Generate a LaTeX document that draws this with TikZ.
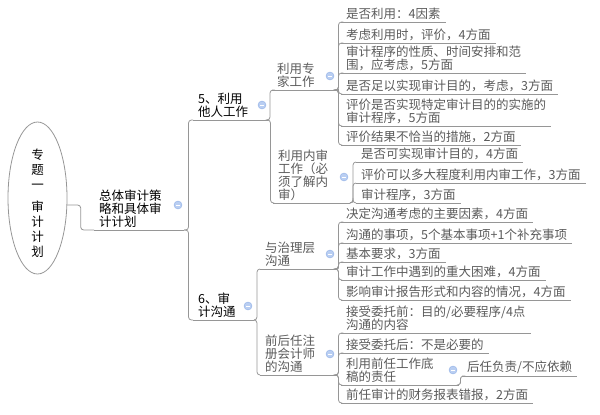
\documentclass[tikz,border=0pt]{standalone}
\usepackage{fontspec}
\setmainfont{Noto Sans CJK SC}
\usetikzlibrary{calc,shapes.geometric}

\definecolor{linegray}{RGB}{150,150,150}
\definecolor{foldfill}{RGB}{185,206,242}
\definecolor{foldedge}{RGB}{145,176,230}
\definecolor{leaftext}{RGB}{90,90,90}

\tikzset{
  topic/.style={anchor=south west, align=left, inner xsep=5pt, inner ysep=2pt,
    font=\fontsize{12.5}{13}\selectfont},
  leaf/.style={topic, text=leaftext},
  fold/.style={circle, fill=foldfill, draw=foldedge, line width=0.4pt,
    minimum size=8pt, inner sep=0pt, outer sep=2pt,
    path picture={\draw[white, line width=0.9pt]
      ([xshift=-2.2pt]path picture bounding box.center) --
      ([xshift=2.2pt]path picture bounding box.center);}},
  uline/.style={draw=linegray, line width=0.8pt},
  branch/.style={uline, rounded corners=3pt,
    to path={(\tikztostart) -| ($(\tikztostart)!0.5!(\tikztotarget)$)
      |- (\tikztotarget)}},
}

\begin{document}
\begin{tikzpicture}[x=1pt, y=-1pt]
      \useasboundingbox (0,0) rectangle (600,415);
      %
      \node[draw=linegray, line width=0.8pt, ellipse, minimum width=59pt,
        minimum height=152pt, inner sep=0pt, font=\fontsize{12.5}{15}\selectfont]
        (root) at (37.5,198) {\raisebox{-10pt}[0pt][0pt]{\begin{tabular}[c]{@{}c@{}}
          专\\题\\一\\[7pt]审\\计\\计\\划\end{tabular}}};   % title
      %
      \node[topic] (plan) at (94,230) {总体审计策\\略和具体审\\计计划};
      \node[fold] (fplan) at (178,205) {};
      %%
      \node[topic] (other) at (193,120) {5、利用\\他人工作};   % first branch
      \node[fold] (fother) at (262,105) {};
      \node[topic] (comm) at (193,320) {6、审\\计沟通};         % second branch
      \node[fold] (fcomm) at (248,306) {};
      %%
      \node[leaf] (expert) at (272,90) {利用专\\家工作};
      \node[fold] (fexpert) at (330,76) {};
      \node[leaf] (inner) at (273,203) {利用内审\\工作（必\\须了解内\\审）};
      \node[fold] (finner) at (344,177) {};
      \node[leaf] (gov) at (260,269) {与治理层\\沟通};
      \node[fold] (fgov) at (330,254) {};
      \node[leaf] (pred) at (260,375) {前后任注\\册会计师\\的沟通};
      \node[fold] (fpred) at (330,354) {};
      %%
      \node[leaf] (e1) at (341,22) {是否利用：4因素};             % expert
      \node[leaf] (e2) at (341,43) {考虑利用时，评价，4方面};
      \node[leaf] (e3) at (341,73) {审计程序的性质、时间安排和范\\围，应考虑，5方面};
      \node[leaf] (e4) at (341,94) {是否足以实现审计目的，考虑，3方面};
      \node[leaf] (e5) at (341,126) {评价是否实现特定审计目的的实施的\\审计程序，5方面};
      \node[leaf] (e6) at (341,145) {评价结果不恰当的措施，2方面};
      %
      \node[leaf] (i1) at (356,162) {是否可实现审计目的，4方面};   % internal audit
      \node[leaf] (i2) at (356,183) {评价可以多大程度利用内审工作，3方面};
      \node[leaf] (i3) at (356,203) {审计程序，3方面};
      %
      \node[leaf] (g1) at (341,222) {决定沟通考虑的主要因素，4方面}; % governance
      \node[leaf] (g2) at (341,243) {沟通的事项，5个基本事项+1个补充事项};
      \node[leaf] (g3) at (341,262) {基本要求，3方面};
      \node[leaf] (g4) at (341,280) {审计工作中遇到的重大困难，4方面};
      \node[leaf] (g5) at (341,300) {影响审计报告形式和内容的情况，4方面};
      %
      \node[leaf] (p1) at (341,333) {接受委托前：目的/必要程序/4点\\沟通的内容}; % predecessor
      \node[leaf] (p2) at (341,353) {接受委托后：不是必要的};
      \node[leaf] (p3) at (341,385) {利用前任工作底\\稿的责任};
      \node[fold] (fp3) at (453,370) {};
      \node[leaf] (succ) at (462,376) {后任负责/不应依赖};
      \node[leaf] (p4) at (341,403) {前任审计的财务报表错报，2方面};
      %
      \draw[uline] (plan.south west) -- (fplan.east |- plan.south);   % underlines
      \draw[uline] (other.south west) -- (fother.east |- other.south);
      \draw[uline] (comm.south west) -- (fcomm.east |- comm.south);
      \draw[uline] (expert.south west) -- (fexpert.east |- expert.south);
      \draw[uline] (inner.south west) -- (finner.east |- inner.south);
      \draw[uline] (gov.south west) -- (fgov.east |- gov.south);
      \draw[uline] (pred.south west) -- (fpred.east |- pred.south);
      \draw[uline] (p3.south west) -- (fp3.east |- p3.south);
      \draw[uline] (e1.south west) -- (e1.south east);
      \draw[uline] (e2.south west) -- (e2.south east);
      \draw[uline] (e3.south west) -- (e3.south east);
      \draw[uline] (e4.south west) -- (e4.south east);
      \draw[uline] (e5.south west) -- (e5.south east);
      \draw[uline] (e6.south west) -- (e6.south east);
      \draw[uline] (i1.south west) -- (i1.south east);
      \draw[uline] (i2.south west) -- (i2.south east);
      \draw[uline] (i3.south west) -- (i3.south east);
      \draw[uline] (g1.south west) -- (g1.south east);
      \draw[uline] (g2.south west) -- (g2.south east);
      \draw[uline] (g3.south west) -- (g3.south east);
      \draw[uline] (g4.south west) -- (g4.south east);
      \draw[uline] (g5.south west) -- (g5.south east);
      \draw[uline] (p1.south west) -- (p1.south east);
      \draw[uline] (p2.south west) -- (p2.south east);
      \draw[uline] (p4.south west) -- (p4.south east);
      \draw[uline] (succ.south west) -- (succ.south east);
      %
      \draw[branch] ([yshift=-7pt]root.east) to (plan.south west);   % branches
      \draw[branch] (fplan.east |- plan.south) to (other.south west);
      \draw[branch] (fplan.east |- plan.south) to (comm.south west);
      %%
      \draw[branch] (fother.east |- other.south) to (expert.south west);
      \draw[branch] (fother.east |- other.south) to (inner.south west);
      \draw[branch] (fcomm.east |- comm.south) to (gov.south west);
      \draw[branch] (fcomm.east |- comm.south) to (pred.south west);
      %%
      \draw[branch] (fexpert.east |- expert.south) to (e1.south west);
      \draw[branch] (fexpert.east |- expert.south) to (e2.south west);
      \draw[branch] (fexpert.east |- expert.south) to (e3.south west);
      \draw[branch] (fexpert.east |- expert.south) to (e4.south west);
      \draw[branch] (fexpert.east |- expert.south) to (e5.south west);
      \draw[branch] (fexpert.east |- expert.south) to (e6.south west);
      \draw[branch] (finner.east |- inner.south) to (i1.south west);
      \draw[branch] (finner.east |- inner.south) to (i2.south west);
      \draw[branch] (finner.east |- inner.south) to (i3.south west);
      \draw[branch] (fgov.east |- gov.south) to (g1.south west);
      \draw[branch] (fgov.east |- gov.south) to (g2.south west);
      \draw[branch] (fgov.east |- gov.south) to (g3.south west);
      \draw[branch] (fgov.east |- gov.south) to (g4.south west);
      \draw[branch] (fgov.east |- gov.south) to (g5.south west);
      \draw[branch] (fpred.east |- pred.south) to (p1.south west);
      \draw[branch] (fpred.east |- pred.south) to (p2.south west);
      \draw[branch] (fpred.east |- pred.south) to (p3.south west);
      \draw[branch] (fpred.east |- pred.south) to (p4.south west);
      \draw[branch] (fp3.east |- p3.south) to (succ.south west);
      %
    \end{tikzpicture}
\end{document}
